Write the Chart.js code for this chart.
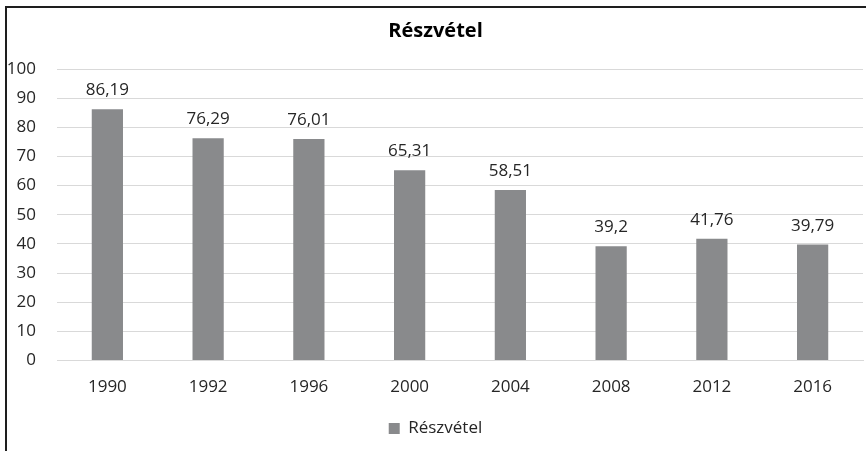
<!DOCTYPE html>
<html>
<head>
<meta charset="utf-8">
<script src="https://cdn.jsdelivr.net/npm/chart.js@4/dist/chart.umd.min.js"></script>
<style>
    html, body { margin: 0; padding: 0; background: #fff; overflow: hidden; }
    #wrap { position: relative; width: 866px; height: 451px; }
    #frame {
        position: absolute; left: 5px; top: 6px; width: 900px; height: 500px;
        border-left: 2px solid #1e1e1e; border-top: 2px solid #1e1e1e;
        pointer-events: none;
    }
</style>
</head>
<body>
<div id="wrap">
    <canvas id="chart" width="866" height="451"></canvas>
    <div id="frame"></div>
</div>
<script>
const years = ['1990', '1992', '1996', '2000', '2004', '2008', '2012', '2016'];
const turnout = [86.19, 76.29, 76.01, 65.31, 58.51, 39.2, 41.76, 39.79];
const seriesName = 'Részvétel';

const textColor = '#262626';
const barColor = '#898a8c';
const gridColor = '#d9d9d9';

Chart.defaults.font.family = "'Open Sans', sans-serif";
Chart.defaults.font.size = 17;
Chart.defaults.color = textColor;

// value labels above each bar, hungarian decimal comma
const barValueLabels = {
    id: 'barValueLabels',
    afterDatasetsDraw(chart) {
        const ctx = chart.ctx;
        const meta = chart.getDatasetMeta(0);
        ctx.save();
        ctx.font = "17px 'Open Sans', sans-serif";
        ctx.fillStyle = textColor;
        ctx.textAlign = 'center';
        ctx.textBaseline = 'alphabetic';
        meta.data.forEach((bar, i) => {
            const txt = String(turnout[i]).replace('.', ',');
            ctx.fillText(txt, bar.x, bar.y - 14);
        });
        ctx.restore();
    }
};

new Chart(document.getElementById('chart').getContext('2d'), {
    type: 'bar',
    data: {
        labels: years,
        datasets: [{
            label: seriesName,
            data: turnout,
            backgroundColor: barColor,
            borderWidth: 0,
            barPercentage: 0.31,
            categoryPercentage: 1
        }]
    },
    options: {
        responsive: false,
        animation: false,
        layout: {
            padding: { left: 8, right: 3, top: 0, bottom: 4 }
        },
        scales: {
            y: {
                min: 0,
                max: 100,
                ticks: { stepSize: 10, padding: 21, color: textColor },
                grid: { color: gridColor, drawTicks: false },
                border: { display: false },
                afterFit(scale) { scale.width = 49; }
            },
            x: {
                ticks: { padding: 16, color: textColor },
                grid: { display: false, drawTicks: false },
                border: { color: gridColor },
                afterFit(scale) { scale.height += 2; }
            }
        },
        plugins: {
            title: {
                display: true,
                text: seriesName,
                color: '#000',
                font: { size: 20, weight: 'bold' },
                padding: { top: 19, bottom: 26 }
            },
            legend: {
                position: 'bottom',
                labels: { boxWidth: 11, boxHeight: 11, padding: 5, color: textColor }
            },
            tooltip: { enabled: false }
        }
    },
    plugins: [barValueLabels]
});
</script>
</body>
</html>
